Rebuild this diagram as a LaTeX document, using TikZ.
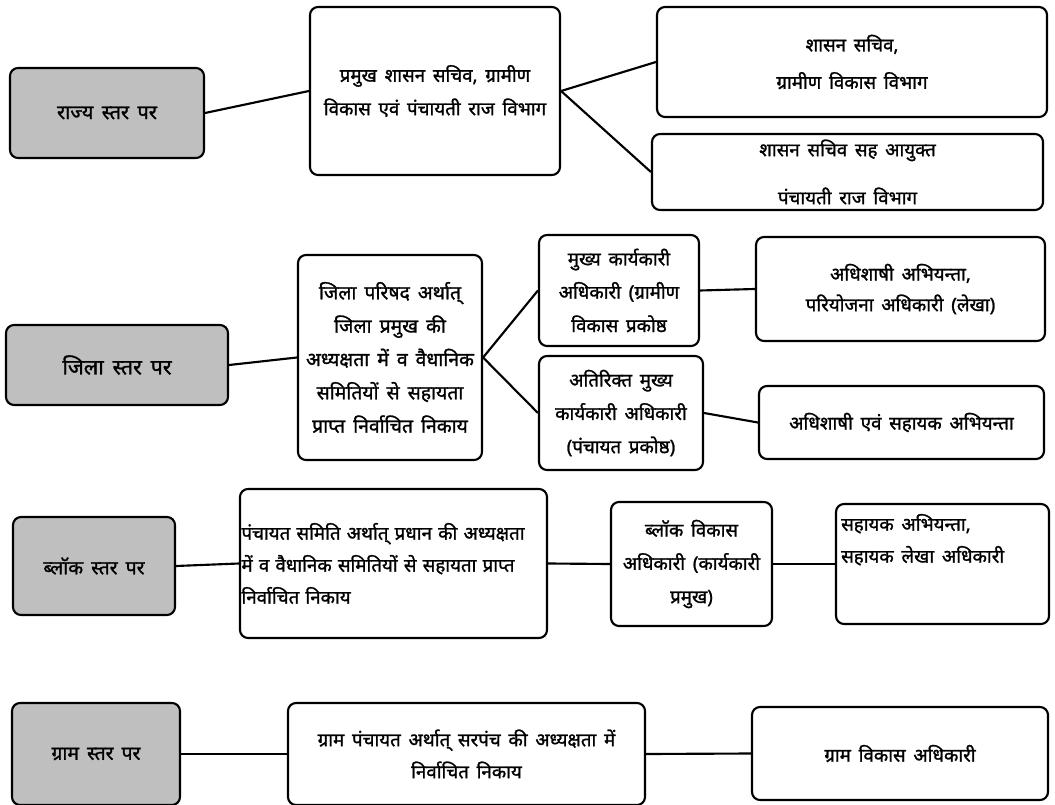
\documentclass[tikz,border=0pt]{standalone}
\usepackage{fontspec}
\newfontfamily\devfont[Script=Devanagari, FakeBold=1.3, WordSpace=1.6]{Noto Sans}
\definecolor{lvlgray}{HTML}{BFBFBF}

\begin{document}
\begin{tikzpicture}[x=0.75pt, y=-0.75pt,
    box/.style={draw, line width=1.6pt, rounded corners=6pt, inner sep=0pt, align=center},
    lvl/.style={box, fill=lvlgray},
    unit/.style={box, fill=white},
    wh/.style 2 args={minimum width=#1*0.75pt, minimum height=#2*0.75pt},
    lead/.style 2 args={font=\devfont\fontsize{#1}{#2}\selectfont},
    link/.style={line width=1.6pt}]
  \useasboundingbox (0,0) rectangle (1055,805);
  % state level
  \node [lvl, wh={194}{90}, lead={15}{18}]    (S1)  at (107,113)   {राज्य स्तर पर};
  \node [unit, wh={250}{168}, lead={14}{25}]  (M1)  at (435,91)    {प्रमुख शासन सचिव, ग्रामीण\\विकास एवं पंचायती राज विभाग};
  \node [unit, wh={390}{110}, lead={14}{28}]  (R1a) at (852,62)    {शासन सचिव,\\ग्रामीण विकास विभाग};
  \node [unit, wh={391}{76}, lead={14}{36}]   (R1b) at (847.5,172) {शासन सचिव सह आयुक्त\\पंचायती राज विभाग};
  % district level
  \node [lvl, wh={222}{80}, lead={16}{18}]    (S2)  at (117,365)   {जिला स्तर पर};
  \node [unit, wh={184}{205}, lead={14.5}{25}] (M2) at (390,357.5) {जिला परिषद अर्थात्\\जिला प्रमुख की\\अध्यक्षता में व वैधानिक\\समितियों से सहायता\\प्राप्त निर्वाचित निकाय};
  \node [unit, wh={160}{111}, lead={14}{25}]  (C2a) at (619,290.5) {मुख्य कार्यकारी\\अधिकारी (ग्रामीण\\विकास प्रकोष्ठ};
  \node [unit, wh={164}{114}, lead={14}{25}]  (C2b) at (621,413)   {अतिरिक्त मुख्य\\कार्यकारी अधिकारी\\(पंचायत प्रकोष्ठ)};
  \node [unit, wh={289}{104}, lead={14}{23}]  (R2a) at (900.5,289) {अधिशाषी अभियन्ता,\\परियोजना अधिकारी (लेखा)};
  \node [unit, wh={285}{73}, lead={14}{18}]   (R2b) at (901.5,422.5) {अधिशाषी एवं सहायक अभियन्ता};
  % block level
  \node [lvl, wh={162}{98}, lead={14.5}{18}]  (S3)  at (94,566)    {ब्लॉक स्तर पर};
  \node [unit, wh={307}{149}, lead={14}{24}, text width=228pt, align=left] (M3) at (393.5,563.5)
        {पंचायत समिति अर्थात् प्रधान की अध्यक्षता\\में व वैधानिक समितियों से सहायता प्राप्त\\निर्वाचित निकाय};
  \node [unit, wh={161}{124}, lead={14}{25}]  (C3)  at (691.5,564) {ब्लॉक विकास\\अधिकारी (कार्यकारी\\प्रमुख)};
  \node [unit, wh={213}{120}, lead={14}{24}]  (R3)  at (942.5,564)
        {\parbox[c][75pt][t]{152pt}{सहायक अभियन्ता,\\सहायक लेखा अधिकारी}};
  % village level
  \node [lvl, wh={168}{102}, lead={14.5}{18}] (S4)  at (96,754)    {ग्राम स्तर पर};
  \node [unit, wh={357}{102}, lead={14}{24}]  (M4)  at (466.5,754) {ग्राम पंचायत अर्थात् सरपंच की अध्यक्षता में\\निर्वाचित निकाय};
  \node [unit, wh={296}{93}, lead={14}{18}]   (R4)  at (900,753.5) {ग्राम विकास अधिकारी};

  \draw [link] (S1.east) -- (M1.west);
  \draw [link] (M1.east) -- (R1a.west);
  \draw [link] (M1.east) -- (R1b.west);
  \draw [link] (S2.east) -- (M2.west);
  \draw [link] (M2.east) -- (C2a.west);
  \draw [link] (M2.east) -- (C2b.west);
  \draw [link] (C2a.east) -- (R2a.west);
  \draw [link] (C2b.east) -- (R2b.west);
  \draw [link] (S3.east) -- (M3.west);
  \draw [link] (M3.east) -- (C3.west);
  \draw [link] (C3.east) -- (R3.west);
  \draw [link] (S4.east) -- (M4.west);
  \draw [link] (M4.east) -- (R4.west);
\end{tikzpicture}
\end{document}
